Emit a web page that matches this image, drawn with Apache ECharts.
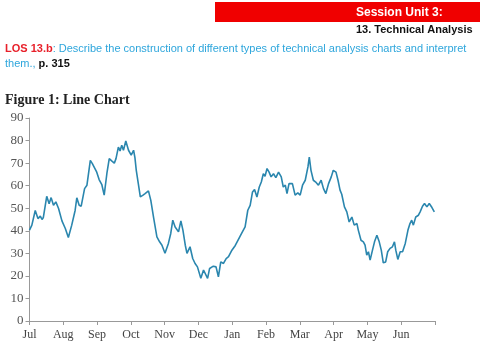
<!DOCTYPE html>
<html><head><meta charset="utf-8">
<script src="https://cdn.jsdelivr.net/npm/echarts@6/dist/echarts.min.js"></script>
<style>html,body{margin:0;padding:0;background:#fff}#c{width:480px;height:360px}</style>
</head><body><div id="c"></div>
<script>
const monthLabels = ['Jul','Aug','Sep','Oct','Nov','Dec','Jan','Feb','Mar','Apr','May','Jun',''];
const yTicks = [0,10,20,30,40,50,60,70,80,90];
// x position in months from start of July
const monthPos = [0,0.07,0.17,0.25,0.32,0.37,0.41,0.51,0.58,0.64,0.71,0.78,0.86,0.96,1.06,1.15,1.25,1.35,1.40,1.47,1.53,1.63,1.70,1.80,1.86,1.91,1.99,2.06,2.14,2.21,2.29,2.36,2.44,2.51,2.56,2.63,2.68,2.73,2.78,2.85,2.93,3.01,3.08,3.12,3.16,3.22,3.28,3.36,3.42,3.52,3.59,3.67,3.77,3.85,3.92,4.01,4.11,4.18,4.24,4.31,4.36,4.41,4.48,4.54,4.61,4.66,4.75,4.83,4.90,4.97,5.07,5.15,5.20,5.27,5.33,5.44,5.52,5.59,5.66,5.74,5.82,5.89,5.99,6.09,6.16,6.23,6.30,6.38,6.46,6.53,6.60,6.66,6.73,6.80,6.86,6.92,6.97,7.03,7.09,7.15,7.22,7.29,7.37,7.45,7.51,7.57,7.62,7.68,7.78,7.86,7.94,8.01,8.08,8.16,8.24,8.28,8.33,8.40,8.47,8.55,8.63,8.70,8.77,8.85,8.93,8.99,9.07,9.13,9.19,9.24,9.32,9.39,9.46,9.54,9.61,9.69,9.73,9.81,9.88,9.93,9.98,10.03,10.08,10.15,10.21,10.28,10.35,10.41,10.47,10.54,10.60,10.67,10.74,10.80,10.84,10.90,10.97,11.04,11.12,11.20,11.26,11.31,11.36,11.43,11.51,11.56,11.63,11.69,11.76,11.83,11.91,11.98];
const price = [40.3,42.5,49,45.4,46.5,45,45.9,55.3,52,54.7,51.3,52.8,49.9,44.4,41,37,42.5,49,54.6,51.3,50.9,58.7,60.2,71.2,69.8,70.5,66,62.7,60.5,55.8,65.4,72,70.9,70,72,77.1,75.4,77.9,75.7,79.8,75.7,73.5,75.7,72.4,66.8,60.9,55,55.8,56.5,57.7,53.5,46.1,37.3,35.1,33.6,30,34.4,38.8,44.7,41.7,42.5,39.5,44.4,40.3,33.6,30,32.9,27.7,25.5,24,18.9,22.6,21.8,18.9,23.3,24.3,24,19.6,26.2,25.5,27.7,28.5,31.4,33.5,35.5,37.5,39.5,41.7,49.1,51.3,57.2,58.3,55,59.4,61.6,65.3,64.2,67.6,66,63.9,65.3,63.6,66,63.9,59.4,60.2,56.5,60.9,60.9,55.8,56.8,55.8,60.2,62.4,68.3,72.7,66.8,62.4,61.6,60.2,62.4,58.7,56.5,60.9,63.9,66.8,66,62.4,58,56.2,50.6,48.4,43.9,46.1,42.5,43.2,40.3,35.8,35.1,33.6,29.2,30.7,27,31.4,35.1,38,35.1,31.4,25.8,26.2,30.7,32.2,32.9,35.1,31.4,27.3,30.7,30.7,34.4,40.3,43.2,44.7,42.5,46.1,46.9,48.4,50.9,52.1,50.6,52.1,50.3,48.4];

const chart = echarts.init(document.getElementById('c'), null, {renderer:'canvas'});
const serif = '"Liberation Serif","DejaVu Serif",serif';
const sans = '"Liberation Sans Narrow","Liberation Sans",Arial,sans-serif';
chart.setOption({
  animation:false,
  backgroundColor:'#fff',
  graphic:[
    {type:'rect', shape:{x:215,y:2,width:265,height:20}, style:{fill:'#f00000'}},
    {type:'text', left:356, top:7, style:{text:'Session Unit 3:', fill:'#fff', font:'bold 12px "Liberation Sans",Arial,sans-serif'}},
    {type:'text', left:356, top:24, style:{text:'13. Technical Analysis', fill:'#111', font:'bold 11px "Liberation Sans",Arial,sans-serif'}},
    {type:'text', left:5, top:43, style:{
      text:'{r|LOS 13.b}{b|: Describe the construction of different types of technical analysis charts and interpret}\n{b|them., }{k|p. 315}',
      rich:{
        r:{fill:'#e8202a', fontWeight:'bold', fontSize:11, fontFamily:sans, lineHeight:15},
        b:{fill:'#2ea6dc', fontSize:11, fontFamily:sans, lineHeight:15},
        k:{fill:'#111', fontWeight:'bold', fontSize:11, fontFamily:sans, lineHeight:15}
      }}},
    {type:'text', left:5, top:93, style:{text:'Figure 1: Line Chart', fill:'#222', font:'bold 14px '+serif}}
  ],
  grid:{left:29.5, right:45, top:118, bottom:39, containLabel:false},
  xAxis:{
    type:'value', min:0, max:12, interval:1,
    axisLine:{show:true, lineStyle:{color:'#999', width:1}},
    axisTick:{show:true, length:4, lineStyle:{color:'#999'}},
    splitLine:{show:false},
    axisLabel:{color:'#444', fontFamily:serif, fontSize:12, margin:8,
      formatter:(v)=>monthLabels[Math.round(v)] || ''}
  },
  yAxis:{
    type:'value', min:0, max:90, interval:10,
    axisLine:{show:true, lineStyle:{color:'#999', width:1}},
    axisTick:{show:true, length:4, lineStyle:{color:'#999'}},
    splitLine:{show:false},
    axisLabel:{color:'#555', fontFamily:serif, fontSize:13, margin:6,
      formatter:(v)=> yTicks.includes(v) ? String(v) : ''}
  },
  series:[{
    type:'line', data: monthPos.map((m,i)=>[m, price[i]]),
    showSymbol:false, smooth:false,
    lineStyle:{color:'#2a86ae', width:1.6}
  }]
});
</script></body></html>
